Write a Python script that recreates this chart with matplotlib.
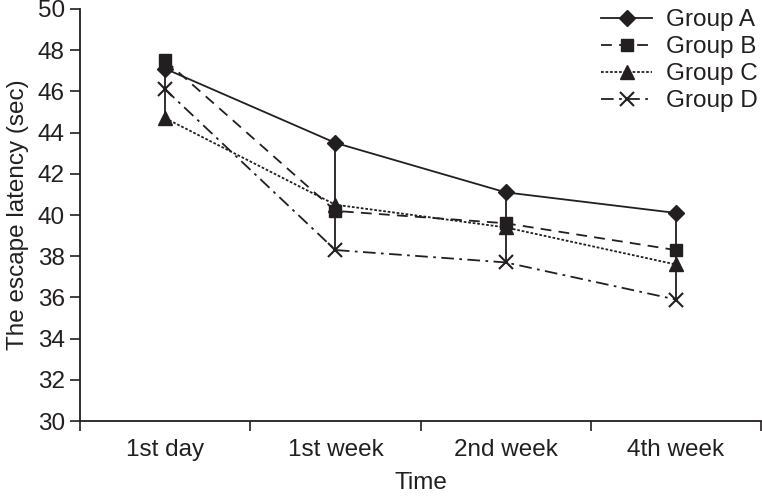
import matplotlib.pyplot as plt
import numpy as np

plt.rcParams['font.family'] = ['Liberation Sans', 'DejaVu Sans']

times = ['1st day', '1st week', '2nd week', '4th week']
group_a = [47.1, 43.5, 41.1, 40.1]
group_b = [47.5, 40.2, 39.6, 38.3]
group_c = [44.7, 40.5, 39.4, 37.6]
group_d = [46.1, 38.3, 37.7, 35.9]

ink = '#231f20'
fs = 17.5
x = np.arange(len(times)) + 0.5

fig = plt.figure(figsize=(7.62, 4.96), dpi=100)
ax = fig.add_axes([0.105, 0.151, 0.8937, 0.831])

# vertical range lines at each time point
allv = np.array([group_a, group_b, group_c, group_d])
ax.vlines(x, allv.min(axis=0), allv.max(axis=0), color=ink, lw=1.3, zorder=1)

ax.plot(x, group_a, ls='-', marker='D', ms=8.5, color=ink, lw=1.3, label='Group A')
ax.plot(x, group_b, ls=(0, (6, 4)), marker='s', ms=8.5, color=ink, lw=1.3, label='Group B')
ax.plot(x, group_c, ls=(0, (1.5, 1)), marker='^', ms=10, color=ink, lw=1.3, label='Group C')
ax.plot(x, group_d, ls=(0, (7, 3, 1.5, 3)), marker='x', ms=10, mew=1.5, color=ink, lw=1.3, label='Group D')

ax.set_xlim(0, 4)
ax.set_ylim(30, 50)
ax.set_yticks(np.arange(30, 51, 2))
ax.set_xticks([0, 1, 2, 3, 4])
ax.set_xticklabels([])
ax.set_xticks(x, minor=True)
ax.set_xticklabels(times, minor=True)
ax.tick_params(axis='x', which='minor', length=0, pad=13, labelsize=fs, colors=ink)
ax.tick_params(axis='x', which='major', length=7, width=1.2, color=ink)
ax.tick_params(axis='y', length=7, width=1.2, color=ink, labelsize=fs, labelcolor=ink, pad=4)

for s in ['top', 'right']:
    ax.spines[s].set_visible(False)
for s in ['left', 'bottom']:
    ax.spines[s].set_linewidth(1.3)
    ax.spines[s].set_color(ink)

ax.set_xlabel('Time', fontsize=fs, color=ink, labelpad=8)
ax.set_ylabel('The escape latency (sec)', fontsize=fs, color=ink, labelpad=6)

leg = ax.legend(loc='upper right', bbox_to_anchor=(1.02, 1.04), frameon=False,
                fontsize=fs, handlelength=2.1, labelspacing=0.2,
                handletextpad=0.55, borderpad=0.2)
for t in leg.get_texts():
    t.set_color(ink)

fig.savefig('out.png', dpi=100)
